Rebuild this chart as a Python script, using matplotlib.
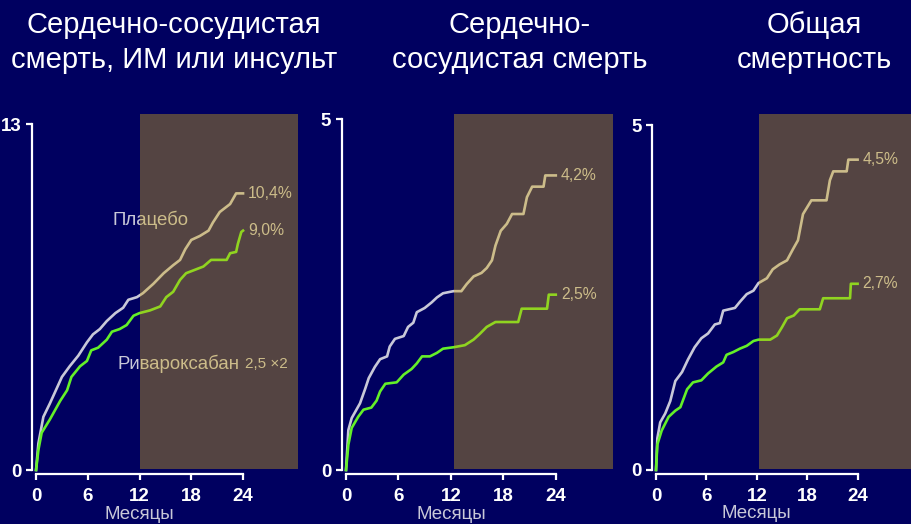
import matplotlib.pyplot as plt
from matplotlib.patches import Rectangle

plt.rcParams['font.family'] = ['Liberation Sans', 'DejaVu Sans']

# --- event curves, cumulative % by month ---
months_mace_placebo = [0, 0.27, 0.85, 1.6, 3.0, 3.9, 4.9, 5.9, 6.6, 7.4, 8.2, 9.2, 10.1, 10.7, 11.7,
                       12.4, 13.6, 14.8, 15.9, 16.7, 17.3, 18.0, 19.0, 20.0, 20.5, 21.3, 22.5, 23.2, 24.0]
mace_placebo = [0, 1.0, 2.0, 2.5, 3.5, 3.9, 4.3, 4.8, 5.1, 5.3, 5.6, 5.9, 6.1, 6.4, 6.5,
                6.65, 7.0, 7.4, 7.7, 7.9, 8.3, 8.65, 8.8, 9.0, 9.3, 9.7, 10.0, 10.4, 10.4]
months_mace_riva = [0, 0.27, 0.65, 1.6, 2.2, 2.8, 3.6, 4.1, 5.1, 5.9, 6.4, 7.2, 8.2, 8.8, 9.7, 10.5, 11.3,
                    12.0, 13.2, 14.4, 15.1, 15.9, 16.7, 17.4, 18.2, 19.4, 20.3, 22.1, 22.5, 23.2, 23.4, 23.8, 24.0]
mace_riva = [0, 0.75, 1.4, 1.9, 2.25, 2.6, 3.0, 3.5, 3.9, 4.1, 4.5, 4.6, 4.9, 5.2, 5.3, 5.45, 5.8,
             5.9, 6.0, 6.15, 6.5, 6.7, 7.15, 7.4, 7.5, 7.65, 7.9, 7.9, 8.15, 8.2, 8.5, 8.95, 9.0]

months_cvd_placebo = [0, 0.27, 0.65, 1.6, 2.2, 2.6, 3.3, 3.9, 4.7, 5.0, 5.6, 6.6, 7.1, 7.7, 8.1, 9.0, 9.8, 10.4,
                      11.1, 12.3, 13.2, 13.8, 14.6, 15.5, 16.1, 16.7, 17.1, 17.7, 18.4, 19.0, 20.3, 20.7,
                      21.3, 22.6, 22.8, 24.0]
cvd_placebo = [0, 0.57, 0.74, 0.95, 1.16, 1.31, 1.47, 1.58, 1.62, 1.76, 1.87, 1.91, 2.04, 2.10, 2.25, 2.31,
               2.39, 2.46, 2.52, 2.55, 2.55, 2.65, 2.76, 2.81, 2.88, 2.99, 3.2, 3.41, 3.51, 3.65, 3.65, 3.89,
               4.04, 4.04, 4.2, 4.2]
months_cvd_riva = [0, 0.27, 0.65, 1.4, 2.0, 2.9, 3.5, 3.9, 4.5, 5.8, 6.6, 7.5, 8.1, 8.7, 9.6, 10.4, 11.1,
                   12.3, 13.6, 14.6, 15.3, 16.1, 17.1, 19.7, 20.1, 23.0, 23.2, 24.0]
cvd_riva = [0, 0.36, 0.6, 0.76, 0.86, 0.89, 0.99, 1.12, 1.23, 1.25, 1.36, 1.44, 1.52, 1.62, 1.62, 1.67,
            1.73, 1.75, 1.78, 1.86, 1.94, 2.04, 2.11, 2.11, 2.3, 2.3, 2.5, 2.5]

months_all_placebo = [0, 0.16, 0.5, 1.1, 1.7, 2.3, 3.1, 3.8, 4.6, 5.4, 6.2, 7.0, 7.6, 8.0, 9.4, 10.0, 10.8,
                      11.6, 12.2, 13.2, 13.9, 14.7, 15.6, 16.3, 16.9, 17.5, 18.5, 20.3, 20.7, 21.1, 22.7,
                      22.9, 24.0]
all_placebo = [0, 0.46, 0.69, 0.82, 1.0, 1.29, 1.42, 1.6, 1.78, 1.91, 1.98, 2.11, 2.13, 2.31, 2.35, 2.44,
               2.55, 2.6, 2.71, 2.78, 2.91, 2.98, 3.04, 3.2, 3.33, 3.71, 3.91, 3.91, 4.2, 4.33, 4.33, 4.5, 4.5]
months_all_riva = [0, 0.16, 0.67, 1.5, 2.3, 2.9, 3.7, 4.4, 5.4, 6.2, 7.2, 8.0, 8.4, 9.2, 10.0, 10.8, 11.6,
                   12.2, 13.6, 14.4, 15.0, 15.6, 16.4, 17.1, 19.5, 19.9, 23.1, 23.2, 24.0]
all_riva = [0, 0.37, 0.57, 0.77, 0.86, 0.91, 1.17, 1.27, 1.3, 1.4, 1.5, 1.56, 1.67, 1.71, 1.76, 1.8, 1.87,
            1.89, 1.89, 1.95, 2.07, 2.2, 2.24, 2.33, 2.33, 2.49, 2.49, 2.7, 2.7]

titles = ["Сердечно-сосудистая\nсмерть, ИМ или инсульт",
          "Сердечно-\nсосудистая смерть",
          "Общая\nсмертность"]
y_max = [13, 5, 5]
x_ticks = [0, 6, 12, 18, 24]

BG = '#000060'
LAVENDER = '#c8c8d8'
GREEN = '#64f028'

fig = plt.figure(figsize=(9.12, 5.24), dpi=100, facecolor=BG)

# axes rectangles and limits (left, bottom, width, height), xlim, ylim, start of shaded period
layout = [
    ([0.0348, 0.0954, 0.2922, 0.6868], (-0.5, 30.4), (-0.15, 13.38), 12.0),
    ([0.3746, 0.0950, 0.2971, 0.6880], (-0.5, 30.5), (-0.06, 5.08), 12.36),
    ([0.7147, 0.0952, 0.2855, 0.6870], (-0.5, 30.5), (-0.06, 5.16), 12.26),
]
panels = [
    (months_mace_placebo, mace_placebo, months_mace_riva, mace_riva),
    (months_cvd_placebo, cvd_placebo, months_cvd_riva, cvd_riva),
    (months_all_placebo, all_placebo, months_all_riva, all_riva),
]
title_x = [0.191, 0.570, 0.893]

for i, ((rect, xl, yl, shade_from), (mp, vp, mr, vr)) in enumerate(zip(layout, panels)):
    ax = fig.add_axes(rect)
    ax.set_facecolor('none')
    ax.set_xlim(*xl)
    ax.set_ylim(*yl)

    ax.plot(mp, vp, color=LAVENDER, lw=1.9, zorder=3)
    ax.plot(mr, vr, color=GREEN, lw=1.9, zorder=3)

    # final event rates next to the curve ends
    for m, v in ((mp, vp), (mr, vr)):
        ax.text(m[-1] + 0.6, v[-1], f"{v[-1]:.1f}".replace('.', ',') + '%',
                color=LAVENDER, fontsize=11.3, va='center', ha='left', zorder=3)

    # second-year follow-up: translucent amber wash over the curves
    ax.add_patch(Rectangle((shade_from, yl[1] * 0.004), 30.6 - shade_from, yl[1],
                           facecolor=(212 / 255, 172 / 255, 21 / 255), alpha=0.4,
                           edgecolor='none', zorder=5, clip_on=True))

    for side in ('top', 'right'):
        ax.spines[side].set_visible(False)
    for side in ('left', 'bottom'):
        ax.spines[side].set_color('white')
        ax.spines[side].set_linewidth(1.6)
    ax.spines['left'].set_bounds(0, y_max[i])
    ax.spines['bottom'].set_bounds(0, 24)
    ax.set_xticks(x_ticks)
    ax.set_yticks([0, y_max[i]])
    ax.tick_params(colors='white', width=1.6, length=4, labelsize=13.5)
    ax.tick_params(axis='x', pad=6)
    for lab in ax.get_xticklabels() + ax.get_yticklabels():
        lab.set_fontweight('bold')
    ax.text(12, -0.103 * y_max[i], 'Месяцы', color=LAVENDER, fontsize=13.5, ha='center', va='top')

    fig.text(title_x[i], 0.918, titles[i], color='white', fontsize=21,
             ha='center', va='center', linespacing=1.32)

    if i == 0:
        ax.text(8.9, 9.4, 'Плацебо', color=LAVENDER, fontsize=13.4, va='center', ha='left', zorder=3)
        ax.text(9.5, 4.0, 'Ривароксабан', color=LAVENDER, fontsize=13.4, va='center', ha='left', zorder=3)
        ax.text(24.2, 4.0, '2,5 ×2', color=LAVENDER, fontsize=11, va='center', ha='left', zorder=3)

fig.savefig('out.png', dpi=100, facecolor=BG)
